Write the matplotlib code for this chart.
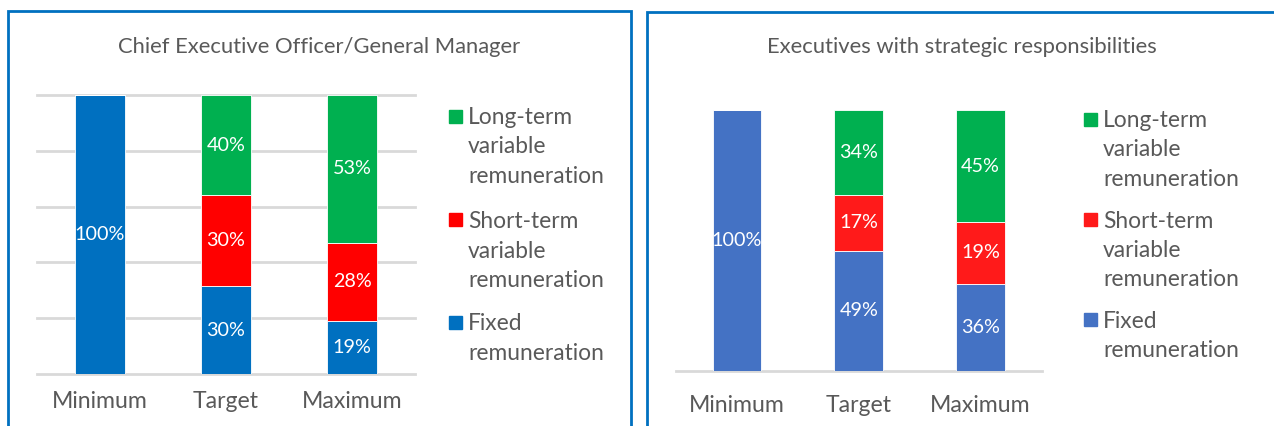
import matplotlib
matplotlib.use("Agg")
import matplotlib.pyplot as plt
from matplotlib.patches import Rectangle

plt.rcParams['font.family'] = ['Lato', 'DejaVu Sans']

categories = ['Minimum', 'Target', 'Maximum']
series = ['Fixed\nremuneration', 'Short-term\nvariable\nremuneration', 'Long-term\nvariable\nremuneration']

# bar heights as drawn (share of bar), and the printed labels
ceo_fixed = [100, 31.5, 19]
ceo_short = [0, 32.5, 28]
ceo_long = [0, 36, 53]
ceo_labels = [['100%', '30%', '19%'], [None, '30%', '28%'], [None, '40%', '53%']]

exe_fixed = [100, 46, 33.5]
exe_short = [0, 21.5, 23.5]
exe_long = [0, 32.5, 43]
exe_labels = [['100%', '49%', '36%'], [None, '17%', '19%'], [None, '34%', '45%']]

W, H = 1274, 426
fig = plt.figure(figsize=(W / 100, H / 100), dpi=100)
grey = '#595959'


def px_box(x0, y0, x1, y1):
    return [x0 / W, 1 - y1 / H, (x1 - x0) / W, (y1 - y0) / H]


def draw(ax, fixed, short, long_, labels, colors, width, grid, pad):
    x = range(len(categories))
    b1 = ax.bar(x, fixed, width, color=colors[0], edgecolor='white', linewidth=0.6, zorder=3)
    b2 = ax.bar(x, short, width, bottom=fixed, color=colors[1], edgecolor='white', linewidth=0.6, zorder=3)
    bott = [a + b for a, b in zip(fixed, short)]
    b3 = ax.bar(x, long_, width, bottom=bott, color=colors[2], edgecolor='white', linewidth=0.6, zorder=3)
    for bars, labs in zip([b1, b2, b3], labels):
        for rect, lab in zip(bars, labs):
            if lab is None:
                continue
            ax.text(rect.get_x() + rect.get_width() / 2, rect.get_y() + rect.get_height() / 2,
                    lab, ha='center', va='center', color='white', fontsize=14.2, zorder=4)
    ax.set_xlim(-0.5, 2.5)
    ax.set_ylim(0, 100)
    ax.set_xticks(list(x))
    ax.set_xticklabels(categories, fontsize=16.6, color=grey)
    ax.tick_params(axis='x', length=0, pad=pad)
    ax.set_yticks([])
    for s in ax.spines.values():
        s.set_visible(False)
    if grid:
        for g in range(0, 101, 20):
            ax.axhline(g, color='#d9d9d9', lw=2, zorder=1, clip_on=False)
    else:
        ax.axhline(0, color='#d9d9d9', lw=2, zorder=1, clip_on=False)


ax1 = fig.add_axes(px_box(37, 95, 415, 374))
draw(ax1, ceo_fixed, ceo_short, ceo_long, ceo_labels, ['#0070C0', '#FF0000', '#00B050'], 0.39, True, 12.5)

ax2 = fig.add_axes(px_box(676, 110, 1041.5, 371))
draw(ax2, exe_fixed, exe_short, exe_long, exe_labels, ['#4472C4', '#FF1A1A', '#00B050'], 0.40, False, 17)

# titles
fig.text(319 / W, 1 - 47 / H, 'Chief Executive Officer/General Manager', ha='center', va='center',
         fontsize=15.8, color=grey)
fig.text(962 / W, 1 - 47 / H, 'Executives with strategic responsibilities', ha='center', va='center',
         fontsize=15.8, color=grey)


# legends, drawn by hand so the marker sits at the first line
def legend(x_mark, x_text, centers, colors, step=29.5):
    for name, col, c in zip(series[::-1], colors[::-1], centers):
        fig.patches.append(Rectangle((x_mark / W, 1 - (c + 6.5) / H), 13 / W, 13 / H,
                                     transform=fig.transFigure, color=col, figure=fig))
        for i, line in enumerate(name.split('\n')):
            fig.text(x_text / W, 1 - (c + 8 + i * step) / H, line, ha='left', va='baseline',
                     fontsize=16.4, color=grey)


legend(449, 468, [116, 220, 322], ['#0070C0', '#FF0000', '#00B050'])
legend(1084, 1103, [119, 219.5, 319.5], ['#4472C4', '#FF1A1A', '#00B050'])

# panel frames
fig.patches.append(Rectangle((8 / W, -0.1), 623 / W, 1.1 - 11 / H, transform=fig.transFigure,
                             fill=False, edgecolor='#0070C0', lw=2, figure=fig))
fig.patches.append(Rectangle((647 / W, -0.1), 700 / W, 1.1 - 12 / H, transform=fig.transFigure,
                             fill=False, edgecolor='#0070C0', lw=2, figure=fig))

fig.savefig('out.png', dpi=100)
